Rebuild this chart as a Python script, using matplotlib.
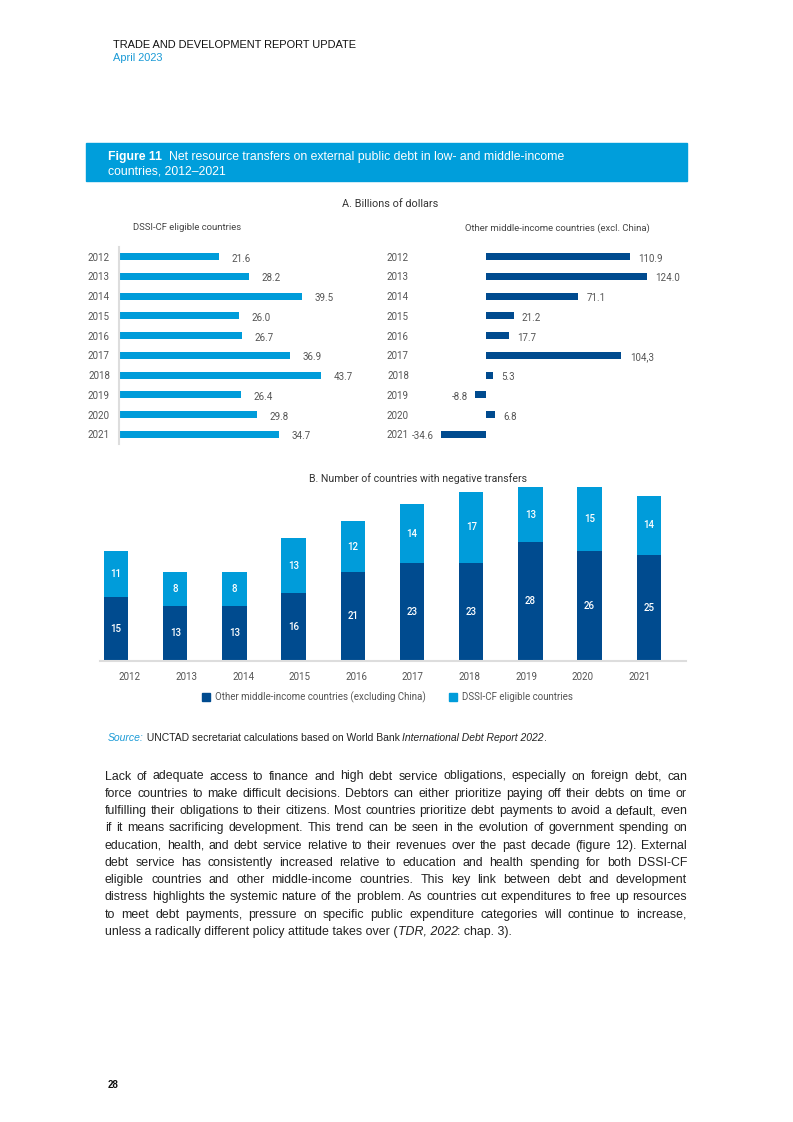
import numpy as np
import matplotlib
matplotlib.use("Agg")
import matplotlib.pyplot as plt
from matplotlib.patches import Rectangle
from matplotlib.lines import Line2D

# Data (figure 11)
years = [2012, 2013, 2014, 2015, 2016, 2017, 2018, 2019, 2020, 2021]
dssi_bn = [21.6, 28.2, 39.5, 26.0, 26.7, 36.9, 43.7, 26.4, 29.8, 34.7]
omic_bn = [110.9, 124.0, 71.1, 21.2, 17.7, 104.3, 5.3, -8.8, 6.8, -34.6]
omic_bn_labels = ["110.9", "124.0", "71.1", "21.2", "17.7", "104,3", "5.3", "-8.8", "6.8", "-34.6"]
omic_count = [15, 13, 13, 16, 21, 23, 23, 28, 26, 25]
dssi_count = [11, 8, 8, 13, 12, 14, 17, 13, 15, 14]

body_lines = [
    "Lack of adequate access to finance and high debt service obligations, especially on foreign debt, can",
    "force countries to make difficult decisions. Debtors can either prioritize paying off their debts on time or",
    "fulfilling their obligations to their citizens. Most countries prioritize debt payments to avoid a default, even",
    "if it means sacrificing development. This trend can be seen in the evolution of government spending on",
    "education, health, and debt service relative to their revenues over the past decade (figure 12). External",
    "debt service has consistently increased relative to education and health spending for both DSSI-CF",
    "eligible countries and other middle-income countries. This key link between debt and development",
    "distress highlights the systemic nature of the problem. As countries cut expenditures to free up resources",
    "to meet debt payments, pressure on specific public expenditure categories will continue to increase,",
]

LIGHT = "#009cda"
DARK = "#004b8f"
GREY = "#555555"
W, H = 793, 1122

plt.rcParams["font.family"] = ["Liberation Sans", "DejaVu Sans"]
fig = plt.figure(figsize=(W / 100, H / 100), dpi=100)
renderer = fig.canvas.get_renderer()


def fx(px):
    return px / W


def fy(py):
    return 1 - py / H


def text_w(s, **kw):
    t = fig.text(0, 0, s, **kw)
    w = t.get_window_extent(renderer).width
    t.remove()
    return w


def run_text(x, y, segments, size, color="#222222"):
    # segments: (text, style, colour or None); placed one after another
    for s, style, c in segments:
        fig.text(fx(x), fy(y), s, fontsize=size, style=style, color=c or color,
                 va="center", ha="left")
        x += text_w(s, fontsize=size, style=style)
    return x


# ---- page header
fig.text(fx(113), fy(45), "TRADE AND DEVELOPMENT REPORT UPDATE", fontsize=7.95,
         color="#111111", va="center")
fig.text(fx(113), fy(58), "April 2023", fontsize=7.95, color="#1a9ad6", va="center")

# ---- figure title box
fig.patches.append(Rectangle((fx(86), fy(181)), fx(687) - fx(86), (181 - 143) / H,
                             transform=fig.transFigure, color="#009edb", zorder=0))
fig.text(fx(108), fy(157), "Figure 11", fontsize=8.8, fontweight="bold", color="white",
         va="center")
x = 108 + text_w("Figure 11", fontsize=8.8, fontweight="bold")
fig.text(fx(x + 7), fy(157), "Net resource transfers on external public debt in low- and middle-income",
         fontsize=8.8, color="white", va="center")
fig.text(fx(108), fy(172), "countries, 2012\u20132021", fontsize=8.8, color="white", va="center")

# ---- panel A
fig.text(fx(390), fy(204), "A. Billions of dollars", fontsize=7.8, color="#333333",
         ha="center", va="center", family="Roboto")
fig.text(fx(187), fy(228), "DSSI-CF eligible countries", fontsize=6.8, color="#444444",
         ha="center", va="center", family="Roboto")
fig.text(fx(557), fy(228), "Other middle-income countries (excl. China)", fontsize=6.8,
         color="#444444", ha="center", va="center", family="Roboto")

rows = np.arange(len(years))
scale_l = (321 - 119) / 43.7
ax_l = fig.add_axes([fx(119), fy(444.2), fx(360) - fx(119), (444.2 - 246.8) / H])
ax_l.barh(rows, dssi_bn, height=0.36, color=LIGHT)
ax_l.set_xlim(0, (360 - 119) / scale_l)
ax_l.set_ylim(9.5, -0.5)
for r, v in zip(rows, dssi_bn):
    ax_l.annotate(f"{v:.1f}", (v, r), xytext=(9, -1.5), textcoords="offset points",
                  ha="left", va="center", fontsize=7, color=GREY, family="Roboto")

scale_r = (647 - 486) / 124.0
ax_r = fig.add_axes([fx(418), fy(444.2), fx(690) - fx(418), (444.2 - 246.8) / H])
ax_r.barh(rows, omic_bn, height=0.36, color=DARK)
ax_r.set_xlim(-(486 - 418) / scale_r, (690 - 486) / scale_r)
ax_r.set_ylim(9.5, -0.5)
for r, v, lab in zip(rows, omic_bn, omic_bn_labels):
    if v >= 0:
        ax_r.annotate(lab, (v, r), xytext=(6, -1.5), textcoords="offset points",
                      ha="left", va="center", fontsize=7, color=GREY, family="Roboto")
    else:
        ax_r.annotate(lab, (v, r), xytext=(-5, -1.5), textcoords="offset points",
                      ha="right", va="center", fontsize=7, color=GREY, family="Roboto")

for ax in (ax_l, ax_r):
    ax.set_yticks(rows)
    ax.set_yticklabels([str(y) for y in years], fontsize=7, color=GREY, family="Roboto")
    ax.tick_params(axis="y", length=0, pad=6.5)
    ax.set_xticks([])
    for s in ax.spines.values():
        s.set_visible(False)
    ax.patch.set_alpha(0)
ax_l.spines["left"].set_visible(True)
ax_l.spines["left"].set_color("#dddddd")
ax_l.spines["left"].set_linewidth(1.5)

# ---- panel B
fig.text(fx(418), fy(479), "B. Number of countries with negative transfers", fontsize=7.6,
         color="#333333", ha="center", va="center", family="Roboto")
step = 59.2
upx = (660.7 - 487.3) / 41
ax_b = fig.add_axes([fx(100), fy(660.7), fx(686) - fx(100), 43 * upx / H])
xpos = np.arange(len(years))
ax_b.bar(xpos, omic_count, width=0.41, color=DARK)
ax_b.bar(xpos, dssi_count, width=0.41, bottom=omic_count, color=LIGHT)
for xp, a, b in zip(xpos, omic_count, dssi_count):
    ax_b.text(xp, a / 2, str(a), ha="center", va="center", color="white", fontsize=7,
              family="Roboto", fontweight="medium")
    ax_b.text(xp, a + b / 2, str(b), ha="center", va="center", color="white", fontsize=7,
              family="Roboto", fontweight="medium")
ax_b.set_xlim(-(116 - 100) / step, (686 - 116) / step)
ax_b.set_ylim(0, 43)
ax_b.set_xticks((130 - 116) / step + xpos * (56.6 / step))
ax_b.set_xticklabels([str(y) for y in years], fontsize=7, color=GREY, family="Roboto")
ax_b.tick_params(axis="x", length=0, pad=8)
ax_b.set_yticks([])
for s in ("left", "right", "top"):
    ax_b.spines[s].set_visible(False)
ax_b.spines["bottom"].set_color("#dddddd")
ax_b.spines["bottom"].set_linewidth(1.5)
ax_b.patch.set_alpha(0)

handles = [Line2D([], [], marker="s", ls="", color=DARK, markersize=5.5),
           Line2D([], [], marker="s", ls="", color=LIGHT, markersize=5.5)]
fig.legend(handles, ["Other middle-income countries (excluding China)", "DSSI-CF eligible countries"],
           loc="center", bbox_to_anchor=(fx(388), fy(697)), ncol=2, frameon=False,
           handlelength=0.6, handletextpad=0.7, columnspacing=2.4,
           prop={"family": "Roboto", "size": 7}, labelcolor=GREY)

# ---- source note
run_text(108, 738, [("Source:", "italic", "#1a9ad6"),
                    (" UNCTAD secretariat calculations based on World Bank ", "normal", None),
                    ("International Debt Report 2022", "italic", None),
                    (".", "normal", None)], 7.45)

# ---- body text, justified
x0, x1 = 105, 687
size = 10.0
natural = max(text_w(l, fontsize=size) for l in body_lines)
size = size * (x1 - x0) / natural * 0.99
y = 776.5
for line in body_lines:
    words = line.split()
    widths = [text_w(w, fontsize=size) for w in words]
    gap = (x1 - x0 - sum(widths)) / (len(words) - 1)
    x = x0
    for w, wd in zip(words, widths):
        fig.text(fx(x), fy(y), w, fontsize=size, color="#222222", va="center")
        x += wd + gap
    y += 17.26
run_text(x0, y, [("unless a radically different policy attitude takes over (", "normal", None),
                 ("TDR, 2022", "italic", None),
                 (": chap. 3).", "normal", None)], size)

# ---- page number
fig.text(fx(108), fy(1085), "28", fontsize=7, fontweight="bold", color="#111111", va="center")

fig.savefig("out.png", dpi=100)
